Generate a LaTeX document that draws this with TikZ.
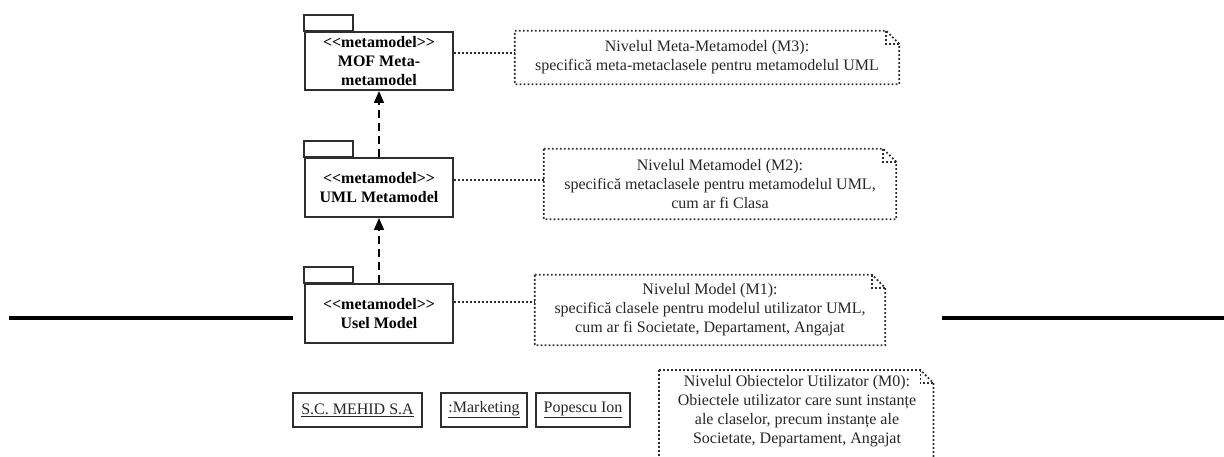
\documentclass[tikz,border=0pt]{standalone}
\usepackage{fontspec}
\setmainfont{Liberation Serif}
\usetikzlibrary{arrows.meta}
\definecolor{pkgline}{HTML}{2E2E2E}
\definecolor{dotcol}{HTML}{2E2E2E}
\definecolor{notetext}{HTML}{262626}
% outline of a UML note with a folded top-right corner
\newcommand\noteoutline[1]{%
  \draw[dotline] (#1.north west) -- ([xshift=-13pt]#1.north east)
    -- ([yshift=-13pt]#1.north east) -- (#1.south east) -- (#1.south west) -- cycle;
  \draw[dotline] ([xshift=-13pt]#1.north east) -- ([xshift=-13pt,yshift=-13pt]#1.north east)
    -- ([yshift=-13pt]#1.north east);}
% small tab on top of a package
\newcommand\pkgtab[1]{%
  \draw[draw=pkgline, line width=2pt] (#1.north west) rectangle ++(49,-16);}
\begin{document}
\begin{tikzpicture}[x=1pt,y=-1pt,
  pkg/.style={draw=pkgline, line width=2pt, minimum width=148pt, minimum height=58pt,
    inner sep=0pt, align=center, font=\bfseries\fontsize{16}{19}\selectfont},
  notebox/.style={inner sep=0pt, align=center, text=notetext,
    font=\fontsize{16}{19}\selectfont},
  dotline/.style={line width=1.8pt, dash pattern=on 1.8pt off 2.2pt, draw=dotcol},
  dep/.style={line width=1.6pt, dash pattern=on 8pt off 5pt,
    -{Triangle[length=12pt,width=10pt]}},
  obj/.style={draw=pkgline, line width=2.2pt, inner sep=0pt, minimum height=34pt,
    font=\fontsize{16}{19}\selectfont, text=notetext},
  rule/.style={line width=4pt}
]
\useasboundingbox (0,0) rectangle (1224,457);
\clip (0,0) rectangle (1224,457);

% horizontal separators
\draw[rule] (9,318) -- (293,318);
\draw[rule] (942,318) -- (1224,318);

% packages
\node[pkg] (mof) at (379,61) {<\kern0pt<metamodel>\kern0pt>\\MOF Meta-\\metamodel};
\node[pkg, minimum height=59pt] (uml) at (379,187.5) {<\kern0pt<metamodel>\kern0pt>\\UML Metamodel};
\node[pkg, minimum height=59pt] (usel) at (379,313.5) {<\kern0pt<metamodel>\kern0pt>\\Usel Model};
\pkgtab{mof}
\pkgtab{uml}
\pkgtab{usel}

% dependencies between levels
\draw[dep] (uml.north) -- (mof.south);
\draw[dep] (usel.north) -- (uml.south);

% notes
\node[notebox, minimum width=384pt, minimum height=53pt] (m3) at (707,57.5)
  {Nivelul Meta-Metamodel (M3):\\specifică meta-metaclasele pentru metamodelul UML};
\node[notebox, minimum width=352pt, minimum height=70pt] (m2) at (720,184)
  {Nivelul Metamodel (M2):\\specifică metaclasele pentru metamodelul UML,\\cum ar fi Clasa};
\node[notebox, minimum width=350pt, minimum height=70pt] (m1) at (710,310)
  {Nivelul Model (M1):\\specifică clasele pentru modelul utilizator UML,\\cum ar fi Societate, Departament, Angajat};
\node[inner sep=0pt, minimum width=274pt, minimum height=110pt, anchor=north west] (m0) at (659,370) {};
\node[notebox] (m0text) at (797,411.5)
  {Nivelul Obiectelor Utilizator (M0):\\Obiectele utilizator care sunt instanțe\\ale claselor, precum instanțe ale\\Societate, Departament, Angajat};
\noteoutline{m3}
\noteoutline{m2}
\noteoutline{m1}
\noteoutline{m0}

% note attachments
\draw[dotline] (mof.east |- 0,53) -- (m3.west |- 0,53);
\draw[dotline] (uml.east |- 0,180) -- (m2.west |- 0,180);
\draw[dotline] (usel.east |- 0,302) -- (m1.west |- 0,302);

% objects
\node[obj, minimum width=129pt] (soc) at (357.5,410) {\underline{S.C. MEHID S.A}};
\node[obj, minimum width=86pt] (dep) at (484,410) {\underline{:Marketing}};
\node[obj, minimum width=94pt] (emp) at (583,410) {\underline{Popescu Ion}};
\end{tikzpicture}
\end{document}
